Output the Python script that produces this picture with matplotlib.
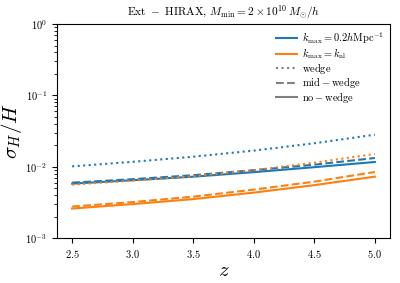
import numpy as np
import matplotlib
matplotlib.use('Agg')
import matplotlib.pyplot as plt

plt.rcParams['font.family'] = 'serif'
plt.rcParams['font.serif'] = ['cmr10']
plt.rcParams['mathtext.fontset'] = 'cm'
plt.rcParams['axes.formatter.use_mathtext'] = True

# redshift
z = [2.5, 3.0, 3.5, 4.0, 4.5, 5.0]

# k_max = 0.2 h/Mpc
blue_wedge = [0.0101, 0.0117, 0.0138, 0.0168, 0.0213, 0.0281]
blue_mid = [0.00597, 0.00668, 0.0076, 0.00893, 0.01067, 0.01324]
blue_nowedge = [0.00578, 0.00646, 0.00724, 0.00838, 0.00984, 0.01164]

# k_max = k_nl
orange_wedge = [0.0056, 0.00637, 0.00736, 0.00893, 0.01138, 0.01506]
orange_mid = [0.00276, 0.00319, 0.0038, 0.00477, 0.00617, 0.00843]
orange_nowedge = [0.00259, 0.00299, 0.00351, 0.00433, 0.00551, 0.00725]

fig = plt.figure(figsize=(4, 2.83), dpi=100)
ax = fig.add_axes([0.1425, 0.159, 0.8325, 0.756])

c1 = 'tab:blue'
c2 = 'tab:orange'
ax.plot(z, blue_wedge, color=c1, ls=':', lw=1.5)
ax.plot(z, blue_mid, color=c1, ls='--', lw=1.5)
ax.plot(z, blue_nowedge, color=c1, ls='-', lw=1.5)
ax.plot(z, orange_wedge, color=c2, ls=':', lw=1.5)
ax.plot(z, orange_mid, color=c2, ls='--', lw=1.5)
ax.plot(z, orange_nowedge, color=c2, ls='-', lw=1.5)

# legend handles
ax.plot([], [], color=c1, lw=1.5, label=r'$k_{\rm max}=0.2h{\rm Mpc}^{-1}$')
ax.plot([], [], color=c2, lw=1.5, label=r'$k_{\rm max}=k_{\rm nl}$')
ax.plot([], [], color='gray', ls=':', lw=1.5, label=r'${\rm wedge}$')
ax.plot([], [], color='gray', ls='--', lw=1.5, label=r'${\rm mid}-{\rm wedge}$')
ax.plot([], [], color='gray', ls='-', lw=1.5, label=r'${\rm no}-{\rm wedge}$')
ax.legend(loc='upper right', frameon=False, fontsize=7.5, labelspacing=0.05,
          handlelength=2.0, handletextpad=0.5, borderaxespad=0.2)

ax.set_yscale('log')
ax.set_ylim(1e-3, 1e0)
ax.set_xticks([2.5, 3.0, 3.5, 4.0, 4.5, 5.0])
ax.tick_params(labelsize=7.5)
ax.set_xlabel(r'$z$', fontsize=15, labelpad=2)
ax.set_ylabel(r'$\sigma_H/H$', fontsize=15)
ax.yaxis.set_label_coords(-0.1, 0.5)
ax.set_title(r'${\rm Ext}\ -\ {\rm HIRAX},\, M_{\rm min}=2\times10^{10}\,M_{\odot}/h$', fontsize=8.2)

fig.savefig('out.png', dpi=100)
